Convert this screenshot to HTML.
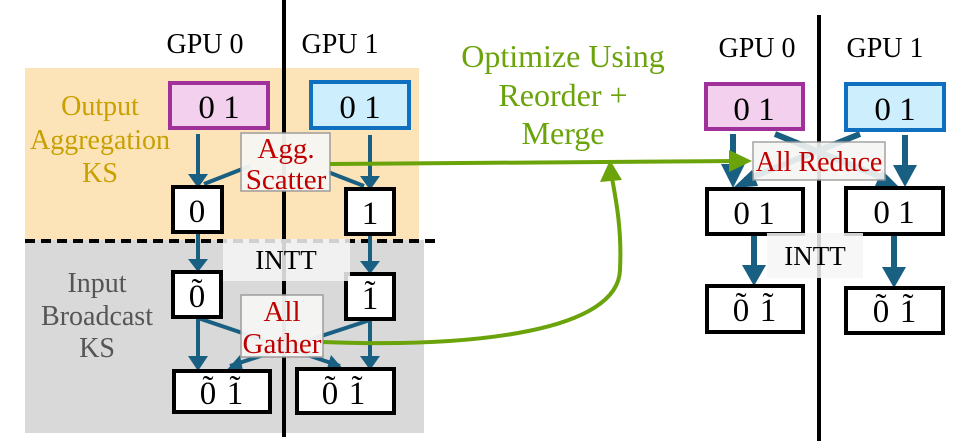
<!DOCTYPE html>
<html><head><meta charset="utf-8"><style>
html,body{margin:0;padding:0;background:#fff;}
svg text{font-family:"Liberation Serif",serif;}
</style></head><body>
<svg width="967" height="441" viewBox="0 0 967 441" xmlns="http://www.w3.org/2000/svg">
<rect x="25" y="68" width="394" height="172" fill="#fce4b8"/>
<rect x="25" y="240" width="399" height="193" fill="#d9d9d9"/>
<line x1="25" y1="241" x2="440" y2="241" stroke="#000" stroke-width="4" stroke-dasharray="10,6"/>
<line x1="284" y1="0" x2="284" y2="437" stroke="#000" stroke-width="4"/>
<line x1="819" y1="15" x2="819" y2="441" stroke="#000" stroke-width="4"/>

<g font-size="28" fill="#000" text-anchor="middle">
<text x="205" y="53">GPU 0</text>
<text x="340" y="53">GPU 1</text>
<text x="757" y="57">GPU 0</text>
<text x="885" y="57">GPU 1</text>
</g>

<g font-size="28" text-anchor="middle" fill="#c8a000">
<text x="100" y="115">Output</text>
<text x="100" y="149">Aggregation</text>
<text x="100" y="182">KS</text>
</g>
<g font-size="28" text-anchor="middle" fill="#555">
<text x="97" y="292">Input</text>
<text x="97" y="325">Broadcast</text>
<text x="97" y="357">KS</text>
</g>

<g font-size="32" fill="#6aa30a" text-anchor="middle">
<text x="563" y="67">Optimize Using</text>
<text x="563" y="106">Reorder +</text>
<text x="563" y="144">Merge</text>
</g>

<g stroke="#195f82" stroke-width="4" fill="none">
<line x1="198" y1="134" x2="198" y2="180"/>
<line x1="370" y1="135" x2="370" y2="182"/>
<line x1="250" y1="166" x2="204" y2="184"/>
<line x1="328" y1="172" x2="364" y2="186"/>
<line x1="198" y1="234" x2="198" y2="264"/>
<line x1="370" y1="235" x2="370" y2="266"/>
<line x1="198" y1="318" x2="198" y2="362"/>
<line x1="370" y1="320" x2="370" y2="362"/>
<line x1="198" y1="318" x2="340" y2="366"/>
<line x1="370" y1="320" x2="230" y2="366"/>
</g>
<g fill="#195f82">
<polygon points="188,174 208,174 198,188"/>
<polygon points="360,176 380,176 370,190"/>
<polygon points="188,259 208,259 198,272"/>
<polygon points="360,261 380,261 370,274"/>
<polygon points="188,356 208,356 198,371"/>
<polygon points="360,356 380,356 370,370"/>
<polygon points="331,355 344,370 326,372"/>
<polygon points="240,355 225,372 243,371"/>
</g>

<rect x="170" y="83" width="98" height="45" fill="#f2d0ee" stroke="#a0309a" stroke-width="4"/>
<rect x="311" y="82" width="98" height="46" fill="#cdeefc" stroke="#0f70c0" stroke-width="4"/>
<g fill="#fff" stroke="#000" stroke-width="4">
<rect x="173" y="187" width="49" height="45"/>
<rect x="346" y="189" width="48" height="45"/>
<rect x="173" y="272" width="48" height="45"/>
<rect x="346" y="274" width="48" height="45"/>
<rect x="174" y="371" width="96" height="41"/>
<rect x="297" y="369" width="97" height="44"/>
</g>
<g font-size="33" text-anchor="middle" fill="#000">
<text x="219" y="118">0 1</text>
<text x="360" y="118">0 1</text>
<text x="197" y="222">0</text>
<text x="370" y="224">1</text>
<text x="197" y="307">0</text>
<text x="370" y="309">1</text>
<text x="208" y="404">0</text>
<text x="235" y="404">1</text>
<text x="330" y="404">0</text>
<text x="357" y="404">1</text>
</g>
<g font-size="33" text-anchor="middle" fill="#000">
<text x="197" y="301">˜</text>
<text x="370" y="303">˜</text>
<text x="208" y="398">˜</text>
<text x="235" y="398">˜</text>
<text x="330" y="398">˜</text>
<text x="357" y="398">˜</text>
</g>

<rect x="223" y="239" width="127" height="42" fill="#f5f5f5" opacity="0.85"/>
<text x="286" y="269" font-size="27" text-anchor="middle" fill="#000">INTT</text>
<rect x="241" y="133" width="89" height="58" fill="#f6f6f4" stroke="#999" stroke-width="1.5" opacity="0.95"/>
<text x="286" y="158" font-size="29" text-anchor="middle" fill="#c00000">Agg.</text>
<text x="286" y="189" font-size="29" text-anchor="middle" fill="#c00000">Scatter</text>
<rect x="241" y="295" width="82" height="62" fill="#f6f6f4" stroke="#999" stroke-width="1.5" opacity="0.95"/>
<text x="282" y="321" font-size="29" text-anchor="middle" fill="#c00000">All</text>
<text x="282" y="353" font-size="29" text-anchor="middle" fill="#c00000">Gather</text>

<g stroke="#195f82" stroke-width="6" fill="none">
<line x1="733" y1="134" x2="733" y2="176"/>
<line x1="905" y1="135" x2="905" y2="176"/>
<line x1="775" y1="134" x2="888" y2="180"/>
<line x1="860" y1="134" x2="745" y2="180"/>
<line x1="754" y1="234" x2="754" y2="272"/>
<line x1="894" y1="235" x2="894" y2="274"/>
</g>
<g fill="#195f82">
<polygon points="721,164 745,164 733,188"/>
<polygon points="893,165 917,165 905,187"/>
<polygon points="882,170 900,188 875,186"/>
<polygon points="752,170 733,188 758,186"/>
<polygon points="742,265 766,265 754,286"/>
<polygon points="882,267 906,267 894,288"/>
</g>
<rect x="706" y="84" width="97" height="45" fill="#f2d0ee" stroke="#a0309a" stroke-width="4"/>
<rect x="846" y="84" width="98" height="46" fill="#cdeefc" stroke="#0f70c0" stroke-width="4"/>
<g fill="#fff" stroke="#000" stroke-width="4">
<rect x="707" y="189" width="96" height="45"/>
<rect x="846" y="188" width="97" height="46"/>
<rect x="707" y="286" width="96" height="46"/>
<rect x="846" y="288" width="97" height="45"/>
</g>
<g font-size="33" text-anchor="middle" fill="#000">
<text x="754" y="120">0 1</text>
<text x="895" y="120">0 1</text>
<text x="754" y="224">0 1</text>
<text x="894" y="223">0 1</text>
<text x="741" y="321">0</text>
<text x="768" y="321">1</text>
<text x="881" y="322">0</text>
<text x="908" y="322">1</text>
</g>
<g font-size="33" text-anchor="middle" fill="#000">
<text x="741" y="315">˜</text>
<text x="768" y="315">˜</text>
<text x="881" y="316">˜</text>
<text x="908" y="316">˜</text>
</g>
<rect x="767" y="233" width="96" height="45" fill="#f6f6f6" opacity="0.85"/>
<text x="815" y="265" font-size="27" text-anchor="middle" fill="#000">INTT</text>
<rect x="753" y="142" width="132" height="38" fill="#f6f6f4" stroke="#999" stroke-width="1.5" opacity="0.9"/>
<text x="819" y="171" font-size="28" text-anchor="middle" fill="#c00000">All Reduce</text>

<g stroke="#6aa30a" stroke-width="4" fill="none">
<line x1="330" y1="164" x2="738" y2="161"/>
<path d="M323 342 C 480 348, 618 330, 620 270 C 622 230, 616 200, 612 178"/>
</g>
<g fill="#6aa30a">
<polygon points="729,150 752,161 729,172"/>
<polygon points="600,182 622,180 610,160"/>
</g>
</svg>
</body></html>
